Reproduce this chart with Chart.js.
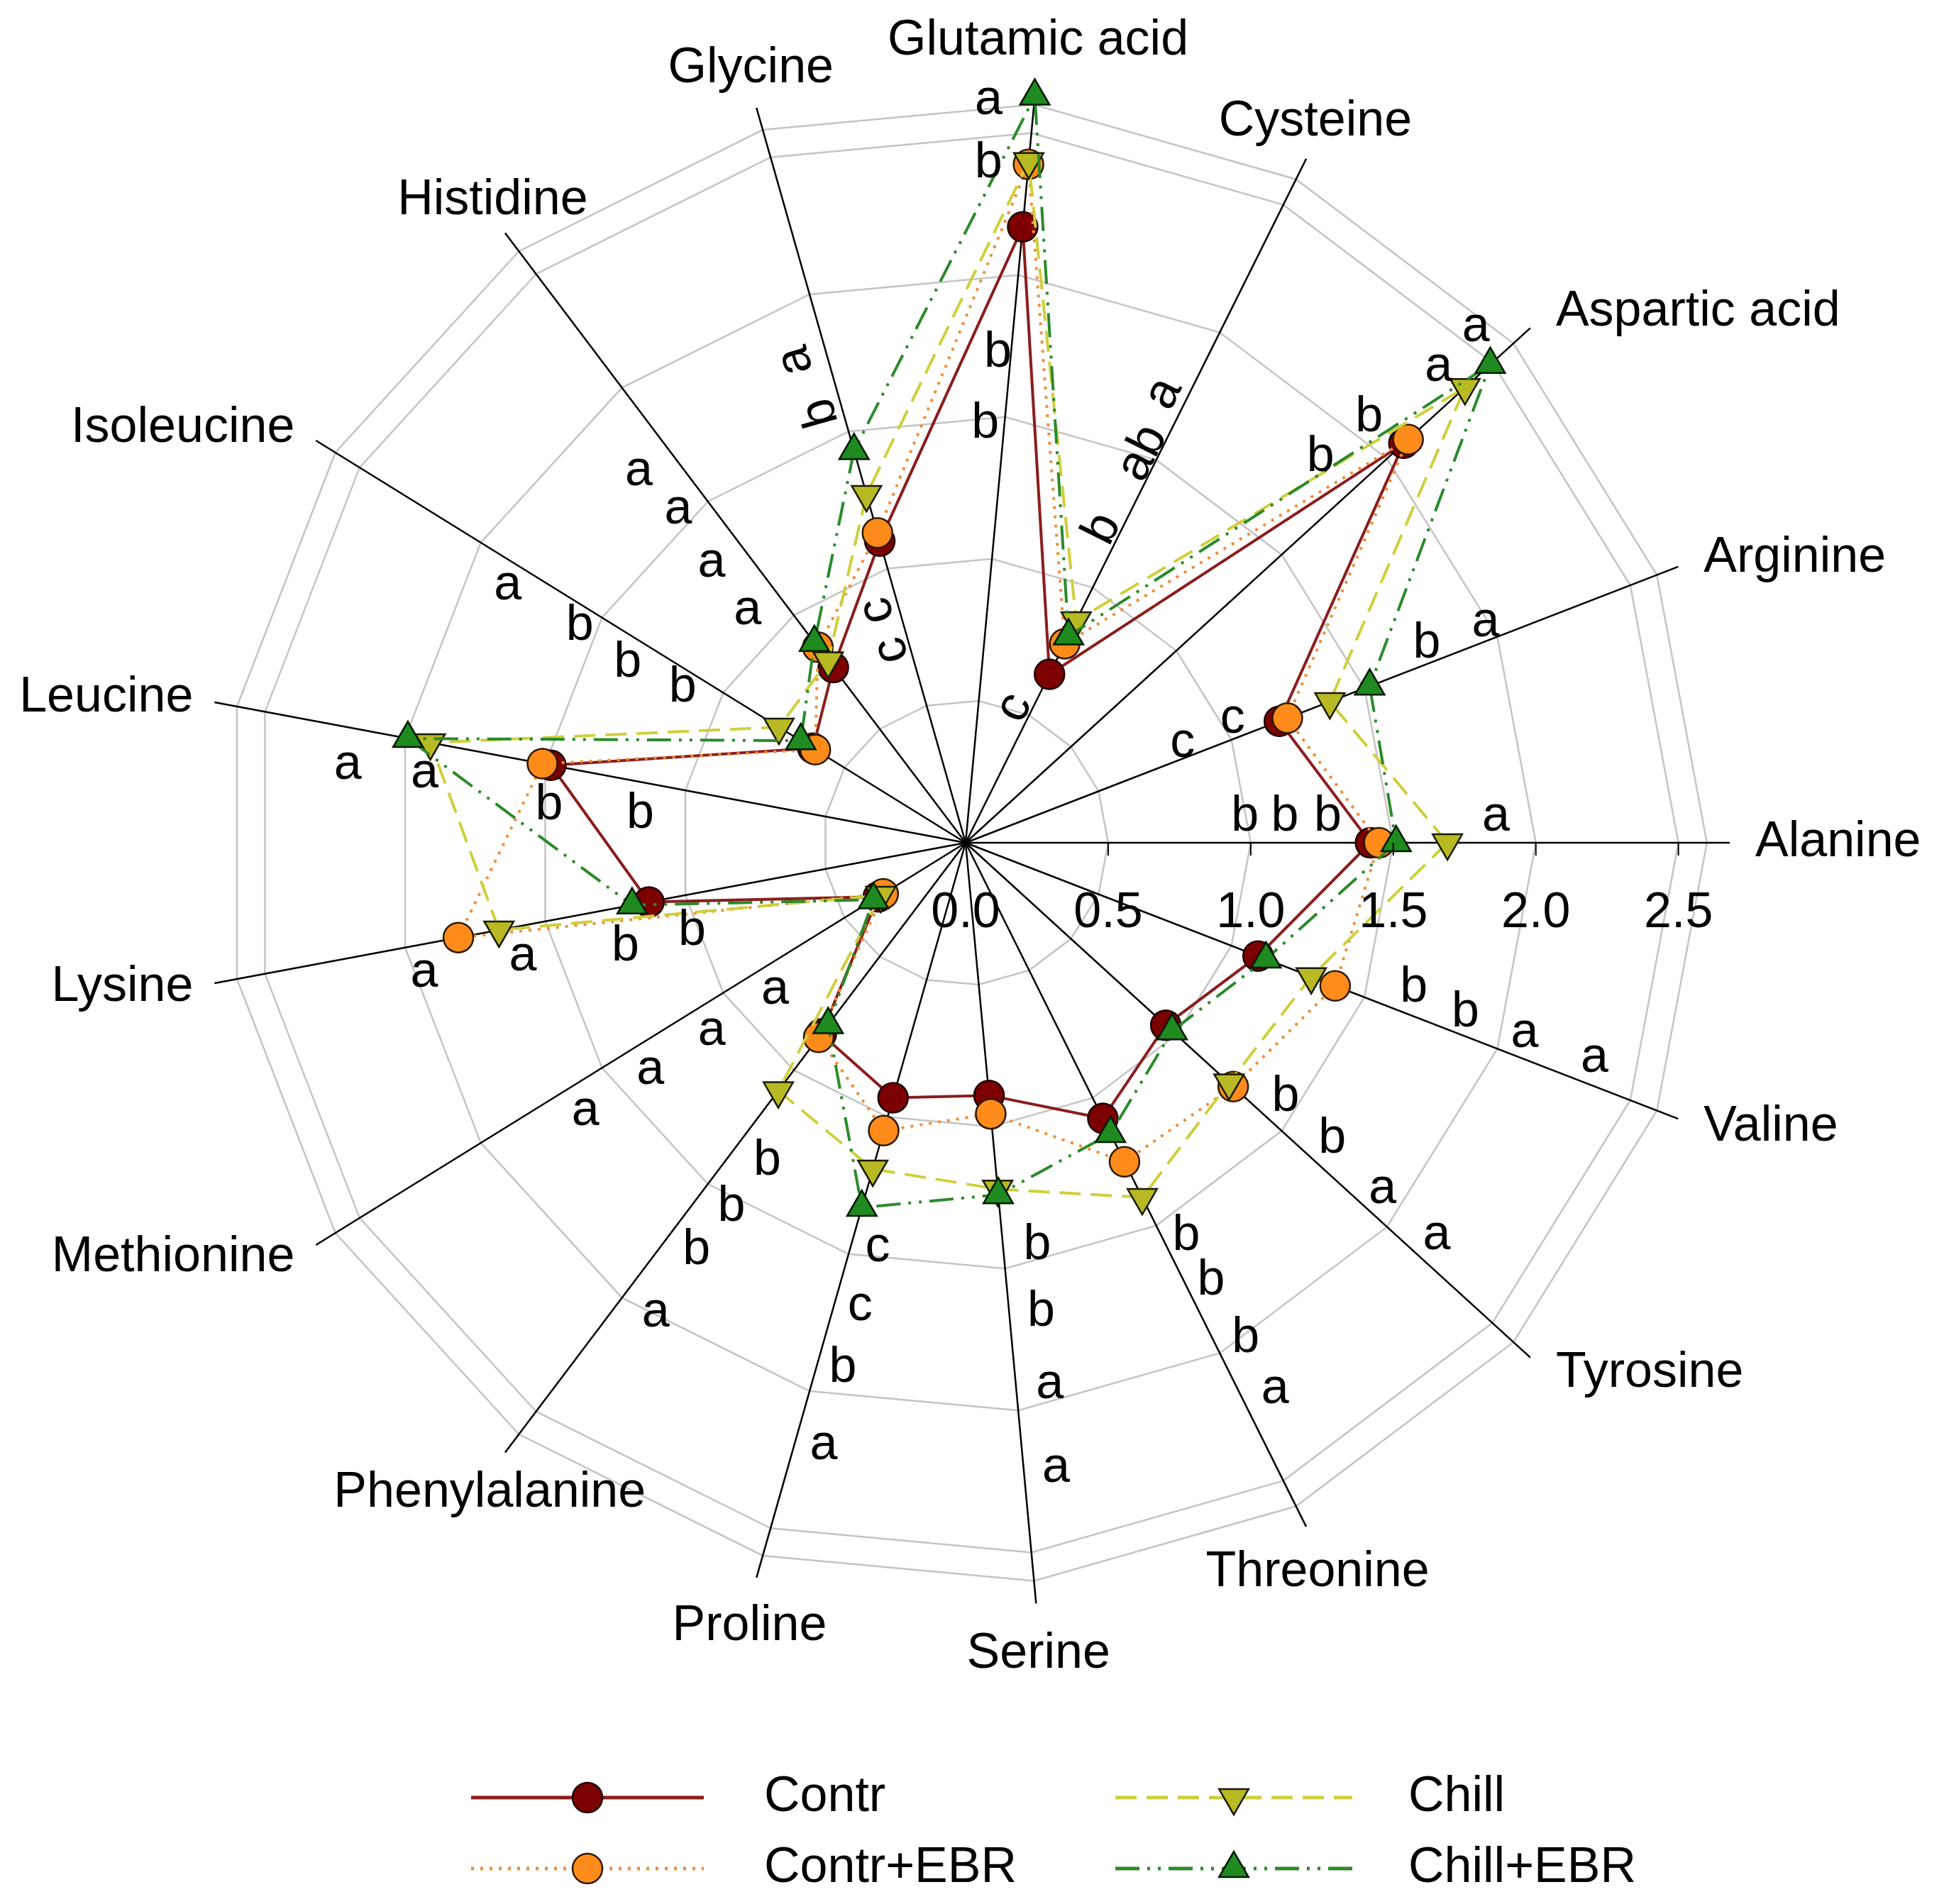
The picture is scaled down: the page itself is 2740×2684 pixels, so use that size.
<!DOCTYPE html>
<html>
<head>
<meta charset="utf-8">
<script src="https://cdn.jsdelivr.net/npm/chart.js@4.4.1/dist/chart.umd.min.js"></script>
<style>
  html, body { margin: 0; padding: 0; background: #ffffff; }
  canvas { display: block; }
</style>
</head>
<body>
<canvas id="chart" width="2740" height="2684"></canvas>
<script>
// ---------------- DATA ----------------
const categories = ['Alanine', 'Arginine', 'Aspartic acid', 'Cysteine', 'Glutamic acid', 'Glycine',
  'Histidine', 'Isoleucine', 'Leucine', 'Lysine', 'Methionine', 'Phenylalanine', 'Proline',
  'Serine', 'Threonine', 'Tyrosine', 'Valine'];

const contr    = [1.42, 1.18, 2.08, 0.66, 2.17, 1.10, 0.77, 0.63, 1.48, 1.13, 0.36, 0.84, 0.93, 0.89, 1.08, 0.95, 1.10];
const contrEBR = [1.45, 1.21, 2.10, 0.78, 2.39, 1.13, 0.86, 0.62, 1.51, 1.81, 0.34, 0.855, 1.05, 0.955, 1.25, 1.27, 1.39];
const chill    = [1.69, 1.37, 2.37, 0.87, 2.40, 1.27, 0.80, 0.77, 1.91, 1.665, 0.35, 1.09, 1.19, 1.22, 1.39, 1.25, 1.30];
const chillEBR = [1.51, 1.52, 2.49, 0.81, 2.63, 1.43, 0.88, 0.68, 1.99, 1.19, 0.38, 0.80, 1.33, 1.24, 1.14, 0.98, 1.13];

const seriesNames = ['Contr', 'Contr+EBR', 'Chill', 'Chill+EBR'];

const ringValues = [0, 0.5, 1.0, 1.5, 2.0, 2.5, 2.6];
const tickValues = [0, 0.5, 1.0, 1.5, 2.0, 2.5];
const tickLabels = ['0.0', '0.5', '1.0', '1.5', '2.0', '2.5'];

// significance letters per category (outward order along each axis)
const sigLetters = [
  ['b', 'b', 'b', 'a'],      // Alanine
  ['c', 'c', 'b', 'a'],      // Arginine
  ['b', 'b', 'a', 'a'],      // Aspartic acid
  ['c', 'b', 'ab', 'a'],     // Cysteine
  ['b', 'b', 'b', 'a'],      // Glutamic acid
  ['c', 'c', 'b', 'a'],      // Glycine
  ['a', 'a', 'a', 'a'],      // Histidine
  ['b', 'b', 'b', 'a'],      // Isoleucine
  ['b', 'b', 'a', 'a'],      // Leucine
  ['b', 'b', 'a', 'a'],      // Lysine
  ['a', 'a', 'a', 'a'],      // Methionine
  ['b', 'b', 'b', 'a'],      // Phenylalanine
  ['c', 'c', 'b', 'a'],      // Proline
  ['b', 'b', 'a', 'a'],      // Serine
  ['b', 'b', 'b', 'a'],      // Threonine
  ['b', 'b', 'a', 'a'],      // Tyrosine
  ['b', 'b', 'a', 'a']       // Valine
];

// ---------------- LAYOUT (letter placement: [along-axis value, sideways offset in value units]) ----------------
const sigPlacement = [
  [[0.98, 0.091], [1.12, 0.091], [1.27, 0.091], [1.86, 0.091]],
  [[0.835, 0.05], [1.03, 0.067], [1.76, 0.066], [1.98, 0.062]],
  [[1.83, 0.16], [2.05, 0.148], [2.35, 0.115], [2.54, 0.13]],
  [[0.50, 0.058], [1.20, 0.06], [1.50, 0.053], [1.72, 0.08]],
  [[1.47, 0.067], [1.72, 0.046], [2.38, 0.14], [2.60, 0.16]],
  [[0.72, 0.064], [0.868, 0.074], [1.59, 0.075], [1.79, 0.11]],
  [[1.11, 0.12], [1.32, 0.12], [1.54, 0.10], [1.73, 0.13]],
  [[1.13, 0.06], [1.34, 0.087], [1.55, 0.067], [1.84, 0.078]],
  [[1.14, 0.11], [1.46, 0.14], [1.91, 0.11], [2.18, 0.13]],
  [[1.00, 0.13], [1.24, 0.14], [1.60, 0.108], [1.95, 0.10]],
  [[0.84, 0.087], [1.105, 0.093], [1.36, 0.096], [1.63, 0.10]],
  [[1.31, 0.118], [1.515, 0.115], [1.71, 0.109], [1.97, 0.126]],
  [[1.45, 0.092], [1.665, 0.089], [1.89, 0.09], [2.17, 0.10]],
  [[1.43, 0.12], [1.665, 0.112], [1.92, 0.119], [2.215, 0.113]],
  [[1.58, 0.078], [1.76, 0.085], [1.995, 0.104], [2.20, 0.117]],
  [[1.43, 0.097], [1.65, 0.099], [1.90, 0.087], [2.15, 0.094]],
  [[1.65, 0.093], [1.85, 0.077], [2.07, 0.084], [2.33, 0.092]]
];
const rotatedLetterAxes = ['Cysteine', 'Glycine'];

// Chart.js runs clockwise from the start angle; the figure runs counter-clockwise from Alanine at 3 o'clock.
const order = categories.map((_, k) => (categories.length - k) % categories.length);
const chartLabels = order.map(i => categories[i]);
const reorder = arr => order.map(i => arr[i]);

const FONT_FAMILY = '"Liberation Sans", Arial, "DejaVu Sans", sans-serif';
const FONT_SIZE = 70;

const styles = [
  { line: '#8b1d1d', width: 4, dash: [], point: 'circle', radius: 21, rot: 0, fill: '#7d0000', edge: '#1a0000' },
  { line: '#ee8f3a', width: 4, dash: [4, 9], point: 'circle', radius: 21, rot: 0, fill: '#ff8c1a', edge: '#2a1800' },
  { line: '#cfcf3c', width: 4, dash: [30, 14], point: 'triangle', radius: 24, rot: 180, fill: '#b9b923', edge: '#1a1a00' },
  { line: '#2b8a2b', width: 4, dash: [34, 11, 4, 11, 4, 11], point: 'triangle', radius: 24, rot: 0, fill: '#1f8a1f', edge: '#001a00' }
];
const seriesValues = [contr, contrEBR, chill, chillEBR];

const datasets = seriesNames.map((name, i) => ({
  label: name,
  data: reorder(seriesValues[i]),
  fill: false,
  borderColor: styles[i].line,
  borderWidth: styles[i].width,
  borderDash: styles[i].dash,
  pointStyle: styles[i].point,
  pointRadius: styles[i].radius,
  pointHoverRadius: styles[i].radius,
  pointRotation: styles[i].rot,
  pointBackgroundColor: styles[i].fill,
  pointBorderColor: styles[i].edge,
  pointBorderWidth: 2.5,
  order: seriesNames.length - i
}));

function drawMarker(ctx, st, x, y) {
  ctx.save();
  ctx.setLineDash([]);
  ctx.fillStyle = st.fill;
  ctx.strokeStyle = st.edge;
  ctx.lineWidth = 2.5;
  ctx.beginPath();
  if (st.point === 'circle') {
    ctx.arc(x, y, st.radius, 0, Math.PI * 2);
  } else {
    let rad = st.rot * Math.PI / 180;
    ctx.moveTo(x + Math.sin(rad) * st.radius, y - Math.cos(rad) * st.radius);
    rad += 2 * Math.PI / 3;
    ctx.lineTo(x + Math.sin(rad) * st.radius, y - Math.cos(rad) * st.radius);
    rad += 2 * Math.PI / 3;
    ctx.lineTo(x + Math.sin(rad) * st.radius, y - Math.cos(rad) * st.radius);
    ctx.closePath();
  }
  ctx.fill();
  ctx.stroke();
  ctx.restore();
}

const overlay = {
  id: 'overlay',
  afterDraw(chart) {
    const s = chart.scales.r;
    const ctx = chart.ctx;
    const n = chart.data.labels.length;
    const R = s.drawingArea;
    ctx.save();
    ctx.fillStyle = '#000';
    ctx.font = FONT_SIZE + 'px ' + FONT_FAMILY;

    // axis (point) labels
    for (let k = 0; k < n; k++) {
      const a = s.getIndexAngle(k) - Math.PI / 2;
      const ux = Math.cos(a), uy = Math.sin(a);
      const end = s.getPointPosition(k, R);
      let x, y;
      ctx.textBaseline = 'middle';
      if (Math.abs(ux) < 0.65) {
        const g = uy < 0 ? 58 : 72;
        ctx.textAlign = 'center';
        x = end.x + ux * g * 0.5;
        y = end.y + uy * g;
      } else if (ux > 0) {
        ctx.textAlign = 'left';
        x = end.x + 36;
        y = end.y + uy * 33;
      } else {
        ctx.textAlign = 'right';
        x = end.x - 30;
        y = end.y + uy * 33;
      }
      ctx.fillText(chart.data.labels[k], x, y);
    }

    // radial tick labels and tick marks along the Alanine axis
    const k0 = chartLabels.indexOf('Alanine');
    ctx.textAlign = 'center';
    ctx.textBaseline = 'middle';
    ctx.strokeStyle = '#000';
    ctx.lineWidth = 2;
    tickValues.forEach((v, i) => {
      const p = s.getPointPosition(k0, s.getDistanceFromCenterForValue(v));
      ctx.fillText(tickLabels[i], p.x, p.y + 100);
      if (v > 0) {
        ctx.beginPath();
        ctx.moveTo(p.x, p.y);
        ctx.lineTo(p.x, p.y + 18);
        ctx.stroke();
      }
    });

    // significance letters
    categories.forEach((cat, ci) => {
      const k = chartLabels.indexOf(cat);
      const a = s.getIndexAngle(k) - Math.PI / 2;
      const nx = Math.sin(a), ny = -Math.cos(a);
      const rotate = rotatedLetterAxes.includes(cat);
      sigLetters[ci].forEach((txt, j) => {
        const [along, side] = sigPlacement[ci][j];
        const p = s.getPointPosition(k, s.getDistanceFromCenterForValue(along));
        const off = s.getDistanceFromCenterForValue(side);
        const x = p.x + nx * off, y = p.y + ny * off;
        ctx.save();
        ctx.translate(x, y);
        if (rotate) ctx.rotate(a);
        ctx.textAlign = 'center';
        ctx.textBaseline = 'middle';
        ctx.fillText(txt, 0, 0);
        ctx.restore();
      });
    });

    // legend
    const legendSlots = [
      { x0: 664, x1: 992, tx: 1077, y: 2534 },
      { x0: 664, x1: 992, tx: 1077, y: 2634 },
      { x0: 1572, x1: 1906, tx: 1985, y: 2534 },
      { x0: 1572, x1: 1906, tx: 1985, y: 2634 }
    ];
    chart.data.datasets.forEach((ds, i) => {
      const slot = legendSlots[i];
      ctx.save();
      ctx.strokeStyle = ds.borderColor;
      ctx.lineWidth = ds.borderWidth + 1;
      ctx.setLineDash(ds.borderDash);
      ctx.beginPath();
      ctx.moveTo(slot.x0, slot.y);
      ctx.lineTo(slot.x1, slot.y);
      ctx.stroke();
      ctx.restore();
      drawMarker(ctx, styles[i], (slot.x0 + slot.x1) / 2, slot.y);
      ctx.fillStyle = '#000';
      ctx.textAlign = 'left';
      ctx.textBaseline = 'middle';
      ctx.fillText(ds.label, slot.tx, slot.y);
    });
    ctx.restore();
  }
};

new Chart(document.getElementById('chart'), {
  type: 'radar',
  data: { labels: chartLabels, datasets: datasets },
  plugins: [overlay],
  options: {
    responsive: false,
    animation: false,
    devicePixelRatio: 1,
    layout: { padding: { left: 284, right: 302, top: 111, bottom: 419 } },
    plugins: { legend: { display: false }, tooltip: { enabled: false } },
    elements: { line: { tension: 0 } },
    scales: {
      r: {
        min: 0,
        max: 2.68,
        startAngle: 90,
        afterBuildTicks: (scale) => { scale.ticks = ringValues.map(v => ({ value: v })); },
        ticks: { display: false },
        grid: { circular: false, color: '#c4c4c4', lineWidth: 2.5 },
        angleLines: { color: '#000000', lineWidth: 2.5 },
        pointLabels: { display: false }
      }
    }
  }
});
</script>
</body>
</html>
